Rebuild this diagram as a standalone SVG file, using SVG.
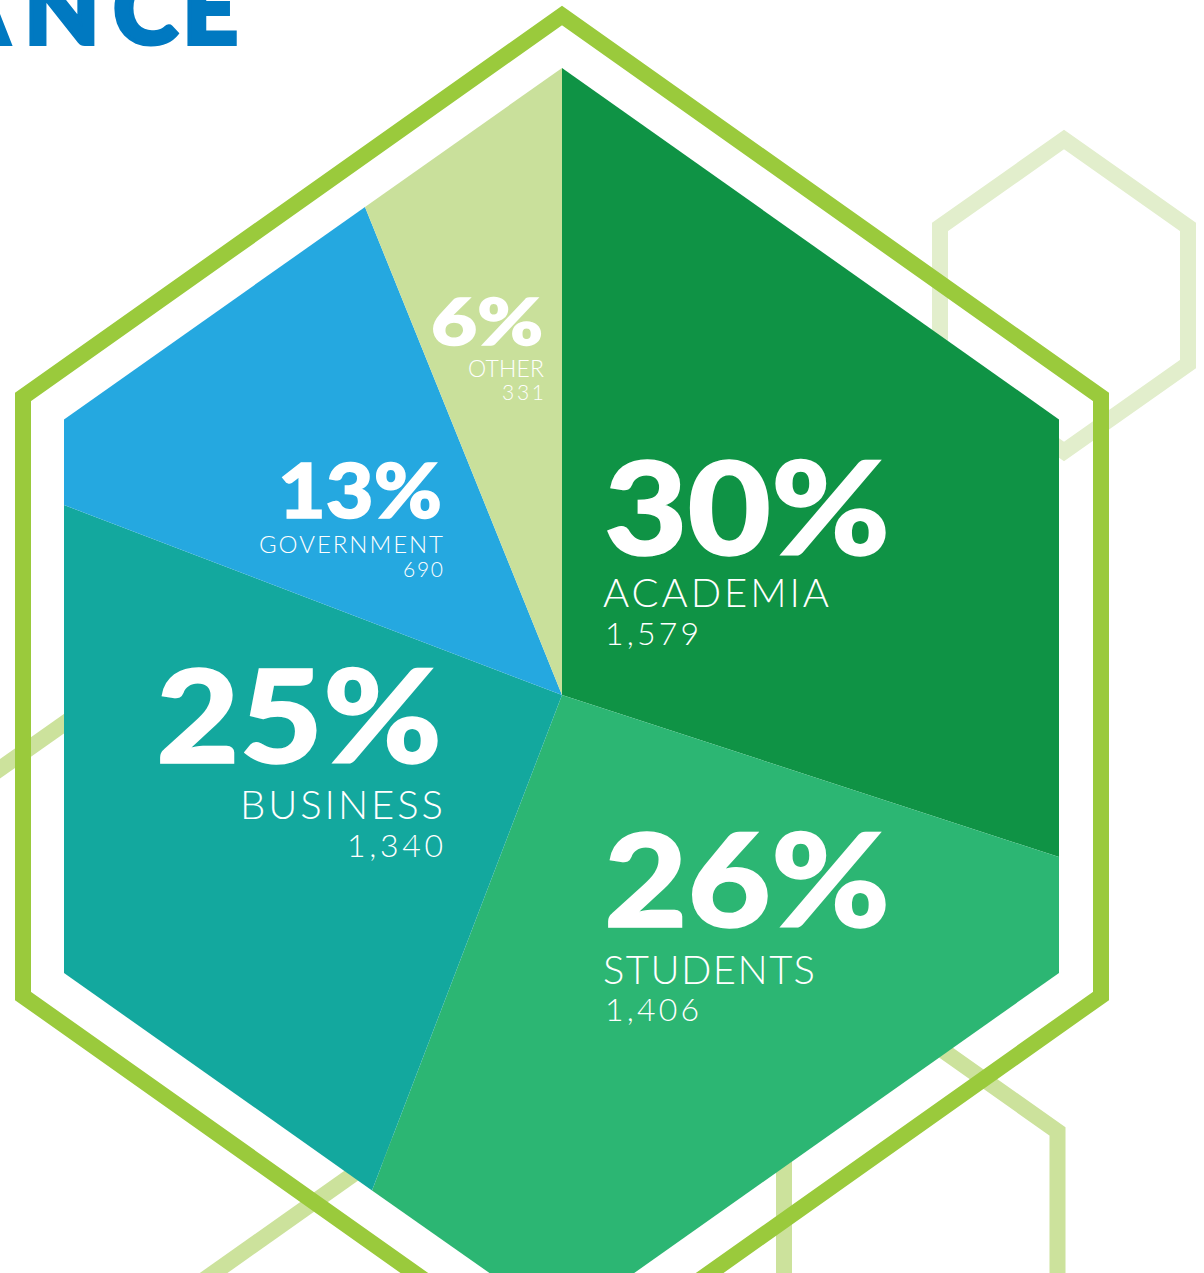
<svg xmlns="http://www.w3.org/2000/svg" width="1204" height="1273" viewBox="0 0 1204 1273">
<style>
.bg{fill:none;stroke-width:16;stroke-linejoin:miter;stroke-miterlimit:10}
.faintA{stroke:#E2EECC}
.faintB{stroke:#CCE29C}
.outline{fill:none;stroke:#9ACA3C;stroke-width:16;stroke-linejoin:miter;stroke-miterlimit:10}
.pct{font-family:Lato,"Liberation Sans",sans-serif;font-weight:900;fill:#FFFFFF;stroke:#FFFFFF;stroke-width:1.5}
.lbl{font-family:Lato,"Liberation Sans",sans-serif;font-weight:300;fill:#FFFFFF}
.title{font-family:Lato,"Liberation Sans",sans-serif;font-weight:900;fill:#0079C1;stroke:#0079C1;stroke-width:4;stroke-linejoin:miter}
</style>
<rect width="1204" height="1273" fill="#FFFFFF"/>
<g id="background-hexagons">
<polygon class="bg faintA" points="1064,139.5 1188,227 1188,364 1064,451.5 940,364 940,227"/>
<path class="bg faintB" d="M784,1400 L784,1131.5 L921,1035 L1057.5,1131.5 L1057.5,1400"/>
<path class="bg faintB" d="M-40,797 L160,656"/>
<path class="bg faintB" d="M150,1318 L430,1120"/>
</g>
<text class="title" y="44" x="-60 24 113 182" font-size="98">ANCE</text>
<g id="outline">
<polygon class="outline" points="562,15.5 1101,397 1101,996 562,1377.5 23,996 23,397"/>
</g>
<g id="academia">
<path d="M562,695 L562,68 L1059,419.5 L1059,857 Z" fill="#0F9345"/>
<text class="pct" x="604" y="555" font-size="130" textLength="286" lengthAdjust="spacingAndGlyphs">30%</text>
<text class="lbl" x="603" y="607" font-size="40" textLength="226">ACADEMIA</text>
<text class="lbl" x="605" y="645" font-size="32" textLength="94">1,579</text>
</g>
<g id="students">
<path d="M562,695 L1059,857 L1059,973 L562,1324 L372,1190.4 Z" fill="#2CB673"/>
<text class="pct" x="604" y="927" font-size="130" textLength="286" lengthAdjust="spacingAndGlyphs">26%</text>
<text class="lbl" x="603" y="984" font-size="40" textLength="212">STUDENTS</text>
<text class="lbl" x="605" y="1021" font-size="32" textLength="94">1,406</text>
</g>
<g id="business">
<path d="M562,695 L372,1190.4 L64,973 L64,505 Z" fill="#13A89E"/>
<text class="pct" x="442" y="763" font-size="130" text-anchor="end" textLength="286" lengthAdjust="spacingAndGlyphs">25%</text>
<text class="lbl" x="443" y="819" font-size="40" text-anchor="end" textLength="203">BUSINESS</text>
<text class="lbl" x="443" y="857" font-size="32" text-anchor="end" textLength="96">1,340</text>
</g>
<g id="government">
<path d="M562,695 L64,505 L64,419.5 L365,207 Z" fill="#25A8E0"/>
<text class="pct" x="442" y="518" font-size="76" text-anchor="end" textLength="164" lengthAdjust="spacingAndGlyphs">13%</text>
<text class="lbl" x="443" y="553" font-size="24" text-anchor="end" textLength="184">GOVERNMENT</text>
<text class="lbl" x="443" y="577" font-size="21" text-anchor="end" textLength="40">690</text>
</g>
<g id="other">
<path d="M562,695 L365,207 L562,68 Z" fill="#C9E09B"/>
<text class="pct" x="543" y="345" font-size="64" text-anchor="end" textLength="112" lengthAdjust="spacingAndGlyphs">6%</text>
<text class="lbl" x="544" y="377" font-size="23" text-anchor="end" textLength="76">OTHER</text>
<text class="lbl" x="544" y="400" font-size="21" text-anchor="end" textLength="42">331</text>
</g>
</svg>
